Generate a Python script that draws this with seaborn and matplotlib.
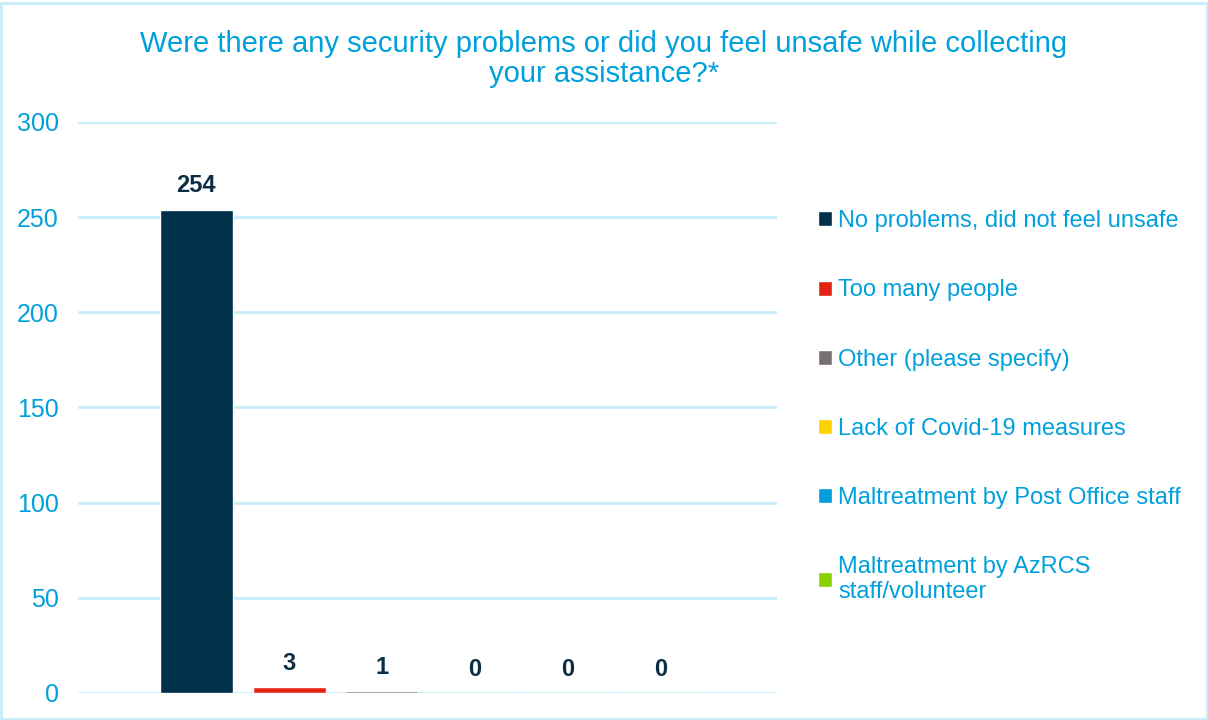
import matplotlib
matplotlib.use("Agg")
import matplotlib.pyplot as plt
import seaborn as sns
import pandas as pd
from matplotlib.patches import Rectangle


# ==========================================
# DATA
# ==========================================

categories = [
    "No problems, did not feel unsafe",
    "Too many people",
    "Other (please specify)",
    "Lack of Covid-19 measures",
    "Maltreatment by Post Office staff",
    "Maltreatment by AzRCS\nstaff/volunteer",
]

counts = [254, 3, 1, 0, 0, 0]

bar_colors = ["#00304A", "#E42313", "#777070", "#FFD100", "#009FDA", "#8CD000"]

yticks = [0, 50, 100, 150, 200, 250, 300]

title = "Were there any security problems or did you feel unsafe while collecting\nyour assistance?*"


# ==========================================
# STYLE
# ==========================================

sns.set_style("white")
plt.rcParams["font.family"] = ["Liberation Sans", "DejaVu Sans"]

text_blue = "#00A0DC"
grid_blue = "#C6ECFA"
navy = "#0B2E44"

df = pd.DataFrame({"category": categories, "count": counts})


# ==========================================
# PLOT
# ==========================================

fig = plt.figure(figsize=(12.08, 7.2), dpi=100)
ax = fig.add_axes([0.0646, 0.0375, 0.5786, 0.7931])

sns.barplot(
    data=df,
    x="category",
    y="count",
    hue="category",
    palette=bar_colors,
    saturation=1,
    width=0.785,
    dodge=False,
    legend=True,
    ax=ax,
)

for container in ax.containers:
    ax.bar_label(container, padding=9, fontsize=17, fontweight="bold", color=navy)

ax.set_ylim(0, 300)
ax.set_yticks(yticks)
ax.set_xlim(-1.27, 6.25)
ax.set_xticks([])
ax.set_xlabel("")
ax.set_ylabel("")

ax.yaxis.grid(True, color=grid_blue, linewidth=2)
ax.set_axisbelow(True)
ax.tick_params(axis="y", colors=text_blue, labelsize=18, length=0, pad=14)
for side in ["top", "right", "left", "bottom"]:
    ax.spines[side].set_visible(False)

leg = ax.legend(
    loc="upper left",
    bbox_to_anchor=(1.045, 0.862),
    frameon=False,
    fontsize=17,
    labelspacing=2.0,
    handlelength=0.6,
    handleheight=0.6,
    handletextpad=0.25,
    borderaxespad=0,
)
for t in leg.get_texts():
    t.set_color(text_blue)
    t.set_linespacing(1.15)

fig.text(0.5, 0.959, title, ha="center", va="top", fontsize=21,
         color=text_blue, linespacing=1.1)

fig.patches.append(Rectangle((0.001, 0.001), 0.998, 0.995, transform=fig.transFigure,
                             fill=False, edgecolor=grid_blue, linewidth=2))

fig.savefig("out.png", dpi=100)
